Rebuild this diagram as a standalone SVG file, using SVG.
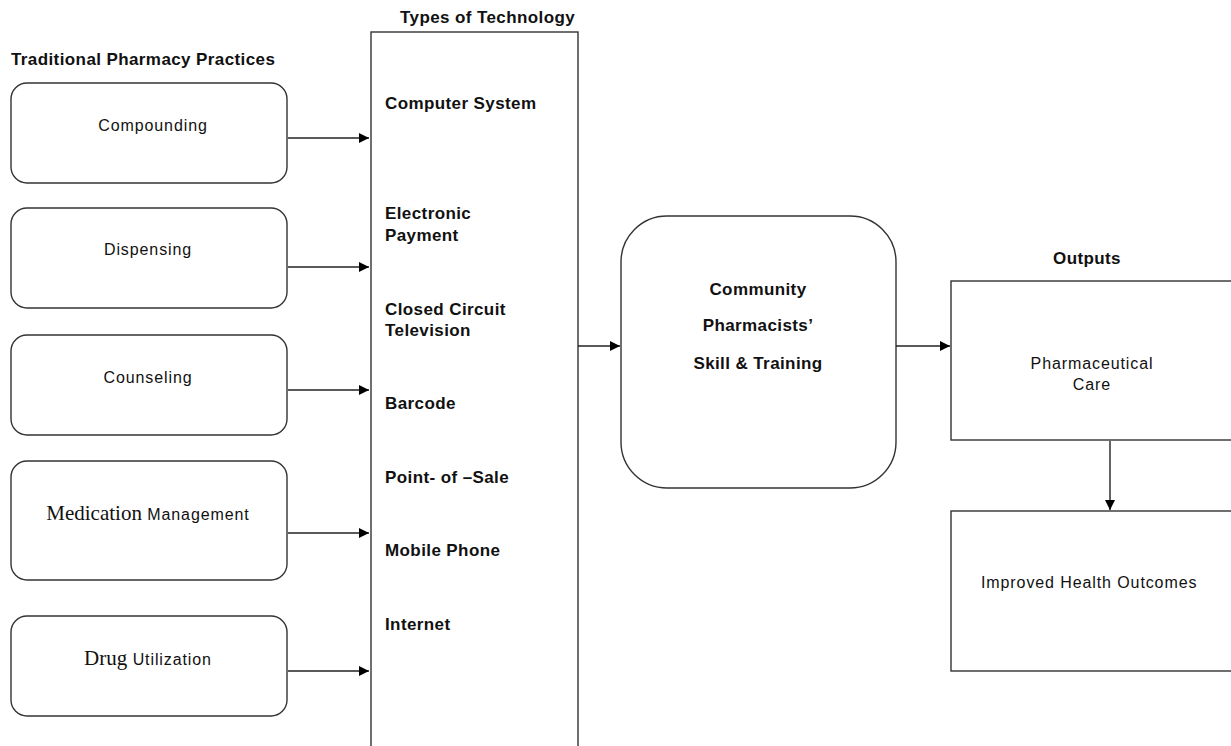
<svg xmlns="http://www.w3.org/2000/svg" width="1231" height="746" viewBox="0 0 1231 746">
  <defs>
    <marker id="arrow" viewBox="0 0 10 10" refX="10" refY="5" markerWidth="10" markerHeight="10" markerUnits="userSpaceOnUse" orient="auto">
      <path d="M0,0 L10,5 L0,10 z" fill="#000"/>
    </marker>
  </defs>
  <style>
    .box { fill: #fff; stroke: #333; stroke-width: 1.4; }
    .conn { stroke: #222; stroke-width: 1.4; fill: none; marker-end: url(#arrow); }
    .hd { font-family: "Liberation Sans", Arial, sans-serif; font-weight: bold; font-size: 17px; letter-spacing: 0.4px; fill: #111; }
    .lbl { font-family: "Liberation Sans", Arial, sans-serif; font-size: 16px; letter-spacing: 0.9px; fill: #111; }
    .ser { font-family: "Liberation Serif", "Times New Roman", serif; font-size: 21px; fill: #111; }
  </style>
  <rect width="1231" height="746" fill="#fff"/>

  <!-- section headings -->
  <text class="hd" x="11" y="65">Traditional Pharmacy Practices</text>
  <text class="hd" x="400" y="23">Types of Technology</text>
  <text class="hd" x="1087" y="264" text-anchor="middle">Outputs</text>

  <!-- traditional practices -->
  <g id="compounding">
    <rect class="box" x="11" y="83" width="276" height="100" rx="16"/>
    <text class="lbl" x="153" y="131" text-anchor="middle">Compounding</text>
  </g>
  <g id="dispensing">
    <rect class="box" x="11" y="208" width="276" height="100" rx="16"/>
    <text class="lbl" x="148" y="255" text-anchor="middle">Dispensing</text>
  </g>
  <g id="counseling">
    <rect class="box" x="11" y="335" width="276" height="100" rx="16"/>
    <text class="lbl" x="148" y="383" text-anchor="middle">Counseling</text>
  </g>
  <g id="medication">
    <rect class="box" x="11" y="461" width="276" height="119" rx="16"/>
    <text x="148" y="520" text-anchor="middle"><tspan class="ser">Medication</tspan><tspan class="lbl"> Management</tspan></text>
  </g>
  <g id="drug">
    <rect class="box" x="11" y="616" width="276" height="100" rx="16"/>
    <text x="148" y="665" text-anchor="middle"><tspan class="ser">Drug</tspan><tspan class="lbl"> Utilization</tspan></text>
  </g>

  <!-- technology list -->
  <g id="technology">
    <rect class="box" x="371" y="32" width="207" height="730"/>
    <text class="hd" x="385" y="109">Computer  System</text>
    <text class="hd" x="385" y="219">Electronic</text>
    <text class="hd" x="385" y="241">Payment</text>
    <text class="hd" x="385" y="315">Closed Circuit</text>
    <text class="hd" x="385" y="336">Television</text>
    <text class="hd" x="385" y="409">Barcode</text>
    <text class="hd" x="385" y="483">Point- of –Sale</text>
    <text class="hd" x="385" y="556">Mobile Phone</text>
    <text class="hd" x="385" y="630">Internet</text>
  </g>

  <!-- pharmacists -->
  <g id="pharmacists">
    <rect class="box" x="621" y="216" width="275" height="272" rx="46"/>
    <text class="hd" x="758" y="295" text-anchor="middle">Community</text>
    <text class="hd" x="758" y="331" text-anchor="middle">Pharmacists’</text>
    <text class="hd" x="758" y="369" text-anchor="middle">Skill &amp; Training</text>
  </g>

  <!-- outputs -->
  <g id="pharmaceutical-care">
    <rect class="box" x="951" y="281" width="300" height="159"/>
    <text class="lbl" x="1092" y="369" text-anchor="middle">Pharmaceutical</text>
    <text class="lbl" x="1092" y="390" text-anchor="middle">Care</text>
  </g>
  <g id="health-outcomes">
    <rect class="box" x="951" y="511" width="300" height="160"/>
    <text class="lbl" x="981" y="588">Improved Health Outcomes</text>
  </g>

  <!-- connectors -->
  <g id="connectors">
    <line class="conn" x1="288" y1="138" x2="369" y2="138"/>
    <line class="conn" x1="288" y1="267" x2="369" y2="267"/>
    <line class="conn" x1="288" y1="390" x2="369" y2="390"/>
    <line class="conn" x1="288" y1="533" x2="369" y2="533"/>
    <line class="conn" x1="288" y1="671" x2="369" y2="671"/>
    <line class="conn" x1="578" y1="346" x2="620" y2="346"/>
    <line class="conn" x1="896" y1="346" x2="950" y2="346"/>
    <line class="conn" x1="1110" y1="441" x2="1110" y2="510"/>
  </g>
</svg>
